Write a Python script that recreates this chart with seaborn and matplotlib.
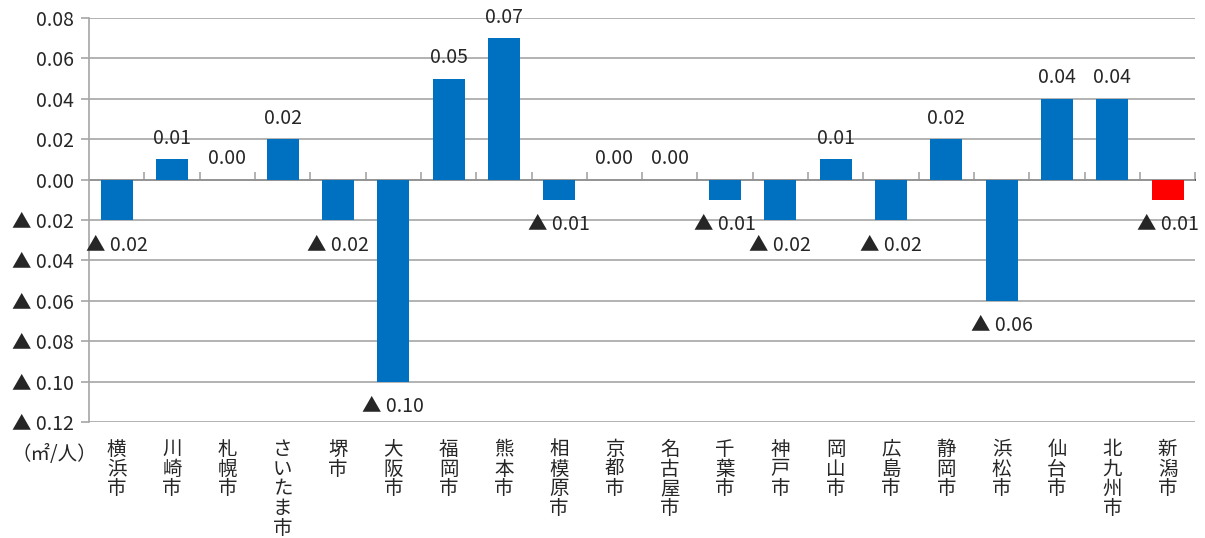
import matplotlib
matplotlib.use("Agg")
import matplotlib.pyplot as plt
import seaborn as sns
import pandas as pd
from matplotlib.ticker import FuncFormatter, MultipleLocator

cities = ["横浜市", "川崎市", "札幌市", "さいたま市", "堺市", "大阪市", "福岡市", "熊本市",
          "相模原市", "京都市", "名古屋市", "千葉市", "神戸市", "岡山市", "広島市", "静岡市",
          "浜松市", "仙台市", "北九州市", "新潟市"]
values = [-0.02, 0.01, 0.00, 0.02, -0.02, -0.10, 0.05, 0.07, -0.01, 0.00,
          0.00, -0.01, -0.02, 0.01, -0.02, 0.02, -0.06, 0.04, 0.04, -0.01]
highlight = "新潟市"

sns.set_theme(style="white")
plt.rcParams["font.family"] = ["Noto Sans CJK JP", "DejaVu Sans"]

df = pd.DataFrame({"city": cities, "value": values})
palette = {c: ("#FF0000" if c == highlight else "#0070C0") for c in cities}

fig = plt.figure(figsize=(12.05, 5.38), dpi=100)
ax = fig.add_axes([0.0739, 0.2156, 0.9180, 0.7509])

sns.barplot(data=df, x="city", y="value", hue="city", palette=palette,
            width=0.58, legend=False, ax=ax, saturation=1, linewidth=0)

ax.set_ylim(-0.12, 0.08)
ax.set_xlim(-0.5, len(cities) - 0.5)
ax.yaxis.set_major_locator(MultipleLocator(0.02))


def fmt(v, pos=None):
    if round(v, 4) < 0:
        return f"▲ {abs(v):.2f}"
    return f"{abs(v):.2f}"


ax.yaxis.set_major_formatter(FuncFormatter(fmt))
ax.grid(axis="y", color="#A6A6A6", linewidth=1.2)
ax.set_axisbelow(True)
for s in ["top", "right", "bottom"]:
    ax.spines[s].set_visible(False)
ax.spines["left"].set_color("#A6A6A6")
ax.spines["left"].set_linewidth(1.2)
ax.tick_params(axis="y", length=6, width=1.2, color="#A6A6A6", direction="out",
               labelsize=14, pad=5, left=True)

ax.set_xticks(range(len(cities)))
ax.set_xticklabels(["\n".join(c) for c in cities], fontsize=14, linespacing=0.93,
                   va="top")
ax.tick_params(axis="x", length=0, pad=12)
ax.set_xlabel("")
ax.set_ylabel("")

# zero axis with category tick marks
sec = ax.secondary_xaxis(0.6)
sec.set_xticks([i + 0.5 for i in range(len(cities))])
sec.set_xticklabels([])
sec.tick_params(length=6, width=1.2, color="#A6A6A6", direction="out")
sec.spines["bottom"].set_color("#A6A6A6")
sec.spines["bottom"].set_linewidth(1.2)

for i, v in enumerate(values):
    if v < 0:
        ax.annotate(fmt(v), (i, v), xytext=(0, -18), textcoords="offset points",
                    ha="center", va="center", fontsize=14)
    else:
        ax.annotate(fmt(v), (i, v), xytext=(0, 15), textcoords="offset points",
                    ha="center", va="center", fontsize=14)

fig.text(0.045, 0.155, "（㎡/人）", ha="center", va="center", fontsize=14)

fig.savefig("out.png", dpi=100)
